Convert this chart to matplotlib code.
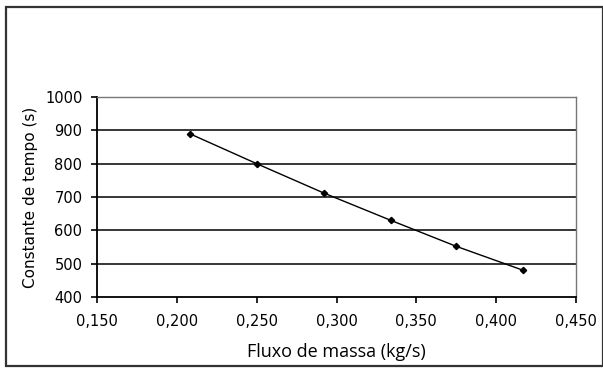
import matplotlib
matplotlib.use("Agg")
import matplotlib.pyplot as plt
from matplotlib.patches import Rectangle
from matplotlib.ticker import FuncFormatter

# Data
fluxo = [0.208, 0.250, 0.292, 0.334, 0.375, 0.417]
constante = [890, 800, 712, 630, 552, 480]
x_ticks = [0.150, 0.200, 0.250, 0.300, 0.350, 0.400, 0.450]
y_ticks = [400, 500, 600, 700, 800, 900, 1000]
x_label = "Fluxo de massa (kg/s)"
y_label = "Constante de tempo (s)"

W, H = 603, 369
fig = plt.figure(figsize=(W / 100, H / 100), dpi=100)
fig.patch.set_facecolor("white")

# outer frame
fig.add_artist(Rectangle((5.5 / W, 1 - 366 / H), 597 / W, 359.5 / H,
                         transform=fig.transFigure, fill=False,
                         edgecolor="#333333", linewidth=1.6))

ax = fig.add_axes([97 / W, 1 - 297 / H, (576 - 97) / W, (297 - 97) / H])
ax.set_xlim(0.150, 0.450)
ax.set_ylim(400, 1000)

for yv in y_ticks[1:-1]:
    ax.axhline(yv, color="black", linewidth=1.1, zorder=1)

ax.plot(fluxo, constante, color="black", linewidth=1.0, marker="D",
        markersize=3.2, zorder=3)

ax.set_xticks(x_ticks)
ax.set_yticks(y_ticks)
ax.xaxis.set_major_formatter(FuncFormatter(lambda v, p: f"{v:.3f}".replace(".", ",")))
ax.tick_params(axis="both", direction="out", length=4, width=1.2, color="black",
               labelsize=10.5)
ax.tick_params(axis="x", pad=8)
ax.tick_params(axis="y", pad=6.5)
for lab in ax.get_xticklabels() + ax.get_yticklabels():
    lab.set_family("DejaVu Sans")

for s in ["left", "bottom"]:
    ax.spines[s].set_color("black")
    ax.spines[s].set_linewidth(1.3)
for s in ["top", "right"]:
    ax.spines[s].set_color("#777777")
    ax.spines[s].set_linewidth(1.0)

ax.set_xlabel(x_label, fontsize=13, family="Open Sans", labelpad=10)
ax.set_ylabel(y_label, fontsize=11, family="DejaVu Sans", labelpad=5)

fig.savefig("out.png", dpi=100)
